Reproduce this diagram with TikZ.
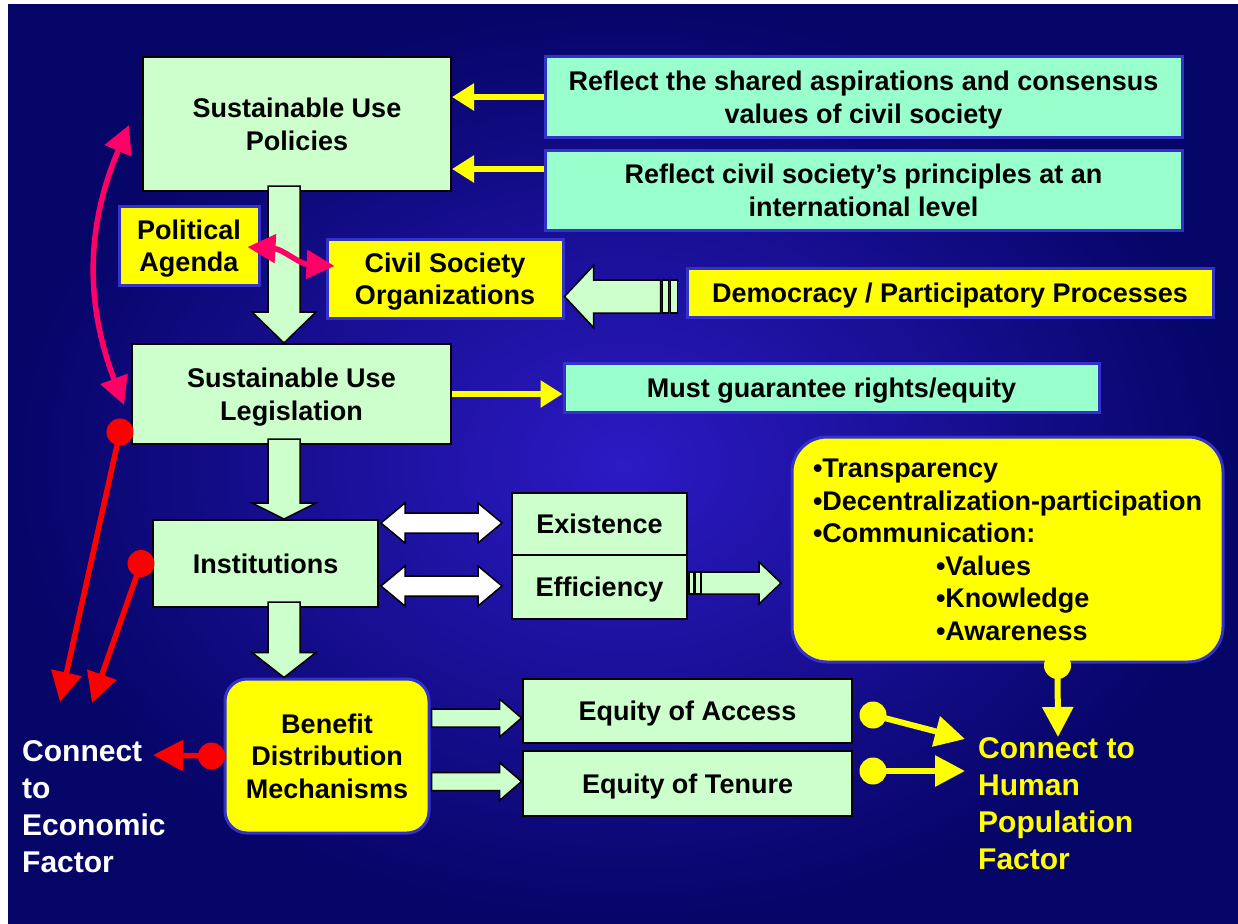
\documentclass[tikz,border=0pt]{standalone}
\usepackage{fontspec}
\setmainfont{Liberation Sans}
\usetikzlibrary{calc,arrows.meta}

\definecolor{leaf}{HTML}{CCFFCC}
\definecolor{aqua}{HTML}{99FFCC}
\definecolor{lemon}{HTML}{FFFF00}
\definecolor{rim}{HTML}{3333CC}
\definecolor{bgin}{RGB}{44,26,196}
\definecolor{bgout}{RGB}{6,5,104}
\definecolor{rose}{HTML}{FF0066}

\begin{document}
\begin{tikzpicture}[
            x=1pt, y=-1pt,
            every node/.style = {inner sep=0pt, align=center, text depth=0pt, font=\bfseries\fontsize{27}{32.5}\selectfont},
            greenbox/.style = {draw=black, line width=2pt, fill=leaf},
            aquabox/.style = {draw=rim, line width=3pt, fill=aqua},
            yellowbox/.style = {draw=rim, line width=3pt, fill=lemon},
            factor/.style = {anchor=north west, align=left, font=\bfseries\fontsize{30}{37}\selectfont},
            blk/.style = {draw=black, line width=1.5pt, fill=leaf, line join=miter},
            wblk/.style = {draw=black, line width=1.5pt, fill=white, line join=miter},
            yarr/.style = {draw=lemon, line width=6pt, -{Triangle[length=22pt,width=26pt]}},
            bigyarr/.style = {yarr, -{Triangle[length=30pt,width=30pt]}},
            rarr/.style = {draw=red, line width=5.5pt, -{Triangle[length=30pt,width=30pt]}},
            parr/.style = {draw=rose, line width=5.5pt, {Triangle[length=28pt,width=28pt]}-{Triangle[length=28pt,width=28pt]}}
        ]
        \useasboundingbox (0,0) rectangle (1238,923);
        \fill[white] (0,0) rectangle (1238,923);
        \shade[inner color=bgin, outer color=bgout] (8,5) rectangle (1238,923);

        % boxes
        \node[greenbox, minimum width=308, minimum height=134] (A1) at (297,124) {Sustainable Use\\Policies};
        \node[aquabox, minimum width=637, minimum height=80] (A2) at (863.5,97) {Reflect the shared aspirations and consensus\\values of civil society};
        \node[aquabox, minimum width=637, minimum height=80] (A3) at (863.5,190) {Reflect civil society’s principles at an\\international level};
        \node[yellowbox, minimum width=140, minimum height=79] (B1) at (189,245.5) {Political\\Agenda};
        \node[yellowbox, minimum width=236, minimum height=79] (B2) at (445,278.5) {Civil Society\\Organizations};
        \node[yellowbox, minimum width=526, minimum height=49] (B3) at (950,292.5) {Democracy / Participatory Processes};
        \node[greenbox, minimum width=319, minimum height=100] (C1) at (291.5,394) {Sustainable Use\\Legislation};
        \node[aquabox, minimum width=535, minimum height=49] (C2) at (831.5,387.5) {Must guarantee rights/equity};
        \node[greenbox, minimum width=225, minimum height=87] (D1) at (265.5,563.5) {Institutions};
        \node[greenbox, minimum width=175, minimum height=62] (D2) at (599.5,524) {Existence};
        \node[greenbox, minimum width=175, minimum height=64] (D3) at (599.5,587) {Efficiency};
        \node[yellowbox, rounded corners=35pt, minimum width=431, minimum height=225, align=left] (D4) at (1007.5,549.5)
            {•Transparency\\•Decentralization-participation\\•Communication:\\\hspace*{123pt}•Values\\\hspace*{123pt}•Knowledge\\\hspace*{123pt}•Awareness};
        \node[yellowbox, rounded corners=22pt, minimum width=204, minimum height=154] (E1) at (327,756) {Benefit\\Distribution\\Mechanisms};
        \node[greenbox, minimum width=329, minimum height=64] (E2) at (687.5,711) {Equity of Access};
        \node[greenbox, minimum width=329, minimum height=65] (E3) at (687.5,783.5) {Equity of Tenure};
        \node[factor, text=white] (F1) at (22,740) {Connect\\to\\Economic\\Factor};
        \node[factor, text=lemon] (F2) at (978,737) {Connect to\\Human\\Population\\Factor};

        % block arrows down the left column
        \foreach \a/\b/\h in {A1/C1/31, C1/D1/16, D1/E1/25}
            \draw[blk] ($(284,0 |- \a.south)+(-16,-6)$) -- ($(284,0 |- \b.north)+(-16,-\h)$) -- ++(-16,0)
                -- (284,0 |- \b.north) -- ++(32,-\h) -- ++(-16,0) -- ($(284,0 |- \a.south)+(16,-6)$) -- cycle;

        % white double arrows
        \foreach \n in {D2,D3}
            \draw[wblk] ($(D1.east |- \n.west)+(2,-1)$) -- ++(24,-20) -- ++(0,10) -- ++(73,0) -- ++(0,-10) -- ++(24,20)
                -- ++(-24,20) -- ++(0,-10) -- ++(-73,0) -- ++(0,10) -- cycle;

        % block arrows to the equity boxes
        \foreach \n/\dy in {E2/7, E3/-2}
            \draw[blk] ($(E1.east |- \n.west)+(1,\dy-9)$) -- ++(68,0) -- ++(0,-10) -- ++(22,19) -- ++(-22,19)
                -- ++(0,-10) -- ++(-68,0) -- cycle;

        % striped arrow democracy -> civil society
        \coordinate (dA) at ($(B2.east |- B3.west)+(0,4)$);
        \draw[blk] (dA) -- ++(29,-31) -- ++(0,14.5) -- ++(67,0) -- ++(0,33) -- ++(-67,0) -- ++(0,14.5) -- cycle;
        \draw[blk] ($(dA)+(98,-16.5)$) rectangle ++(6,33);
        \draw[blk] ($(dA)+(106,-16.5)$) rectangle ++(7,33);

        % striped arrow efficiency -> bullets
        \coordinate (eA) at ($(D3.east)+(0,-4)$);
        \draw[blk] ($(eA)+(1,-11)$) rectangle ++(5,22);
        \draw[blk] ($(eA)+(7,-11)$) rectangle ++(6,22);
        \draw[blk] ($(eA)+(13,-11)$) -- ++(58,0) -- ++(0,-10) -- ++(22,21) -- ++(-22,21) -- ++(0,-10) -- ++(-58,0) -- cycle;

        % yellow arrows
        \draw[yarr] (A2.west) -- (A1.east |- A2.west);
        \draw[yarr] ($(A3.west)+(0,-21)$) -- ($(A1.east |- A3.west)+(0,-21)$);
        \draw[yarr] (C1.east) -- (C2.west |- C1.east);

        % pink links
        \draw[parr] ($(A1.west)+(-13,1)$) to[bend right=22] ($(C1.west)+(-7,11)$);
        \draw[parr] ($(B1.east)+(-13,1.5)$) .. controls ($(B1.east)+(22,3.5)$) and ($(B2.west)+(-26,-14.5)$) .. ($(B2.west)+(9,-12.5)$);

        % red links to the economic factor
        \coordinate (r1) at ($(C1.south west)+(-11,-13)$);
        \coordinate (r2) at ($(D1.west)+(-11,0)$);
        \coordinate (r3) at ($(E1.west)+(-12,0)$);
        \draw[rarr] (r1) -- ($(F1.north west)+(38,-38)$);
        \draw[rarr] (r2) -- ($(F1.north west)+(70,-37)$);
        \draw[rarr] (r3) -- ($(F1.north west)+(131,15)$);
        \foreach \r in {r1,r2,r3}
            \fill[red] (\r) circle (13.5pt);

        % yellow links to the human population factor
        \coordinate (y1) at ($(E2.east)+(20,4)$);
        \coordinate (y2) at ($(E3.east)+(20,-12.5)$);
        \coordinate (y3) at ($(D4.south)+(50,2)$);
        \draw[bigyarr] (y1) -- ($(F2.north west)+(-13,2)$);
        \draw[bigyarr] (y2) -- ($(F2.north west)+(-13,34)$);
        \draw[bigyarr] (y3) -- ($(F2.north west)+(80,0)$);
        \foreach \y in {y1,y2,y3}
            \fill[lemon] (\y) circle (13.5pt);
    \end{tikzpicture}
\end{document}
